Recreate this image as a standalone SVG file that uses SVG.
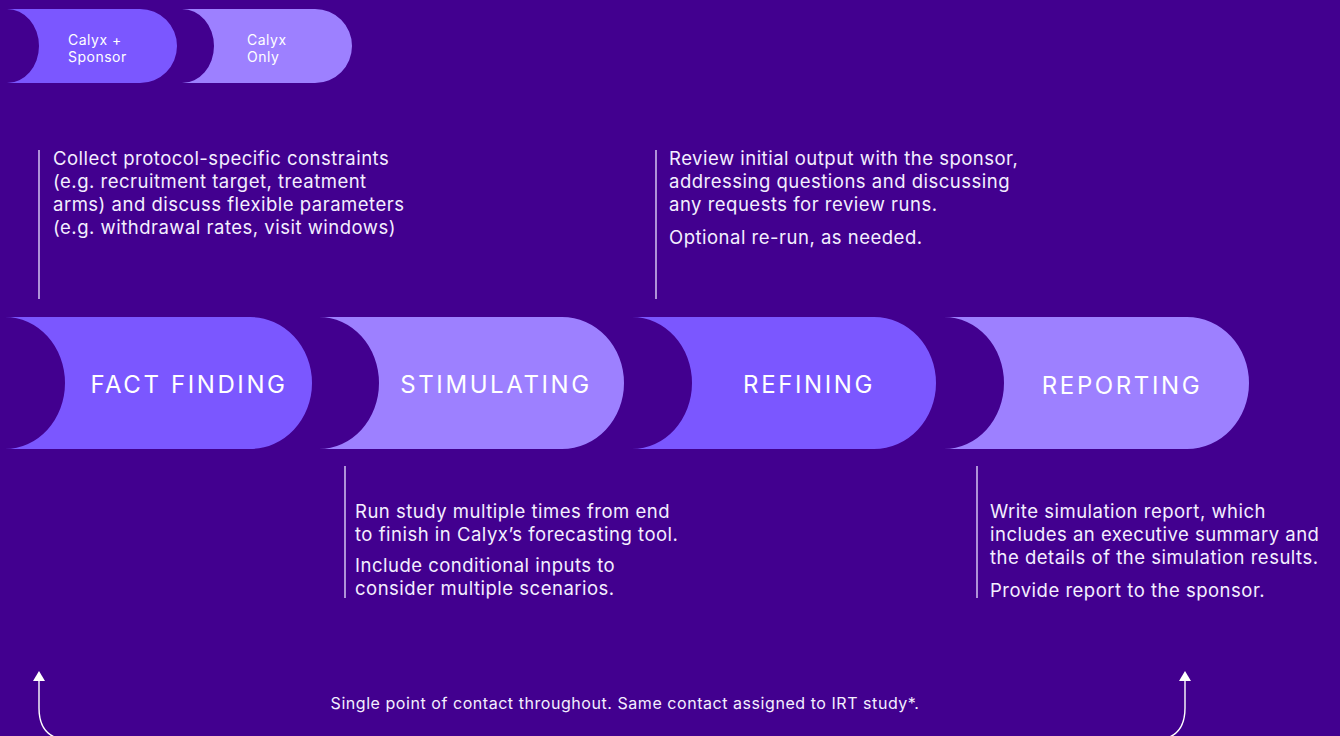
<svg xmlns="http://www.w3.org/2000/svg" width="1340" height="736" viewBox="0 0 1340 736">
  <defs>
    <style>
      .bg { fill: #42008f; }
      .mid { fill: #7b57ff; }
      .light { fill: #9d80ff; }
      .stage { font-family: Inter, "Noto Sans", sans-serif; font-size: 24px; fill: #ffffff; letter-spacing: 2.6px; text-anchor: middle; }
      .legend { font-family: Inter, "Noto Sans", sans-serif; font-size: 14px; fill: #ffffff; letter-spacing: 0.5px; }
      .desc { font-family: Inter, "Noto Sans", sans-serif; font-size: 18.5px; fill: #f4efff; letter-spacing: 0.5px; }
      .note { font-family: Inter, "Noto Sans", sans-serif; font-size: 16px; fill: #f4efff; letter-spacing: 0.55px; text-anchor: middle; }
      .rule { stroke: #e9e2ff; stroke-width: 1.3; fill: none; }
      .flow { stroke: #ffffff; stroke-width: 1.4; fill: none; }
    </style>
    <marker id="tip" viewBox="0 0 10 12" refX="0" refY="6" markerWidth="10" markerHeight="12" markerUnits="userSpaceOnUse" orient="auto-start-reverse">
      <path d="M0,0 L10,6 L0,12 Z" fill="#ffffff"/>
    </marker>
  </defs>

  <rect class="bg" x="0" y="0" width="1340" height="736"/>

  <!-- legend -->
  <g id="legend-calyx-sponsor">
    <path class="mid" d="M7,9 H140 A37 37 0 0 1 140,83 H7 A32 37 0 0 0 7,9 Z"/>
    <text class="legend" x="68" y="45">Calyx +</text>
    <text class="legend" x="68" y="62">Sponsor</text>
  </g>
  <g id="legend-calyx-only">
    <path class="light" d="M182,9 H315 A37 37 0 0 1 315,83 H182 A32 37 0 0 0 182,9 Z"/>
    <text class="legend" x="247" y="45">Calyx</text>
    <text class="legend" x="247" y="62">Only</text>
  </g>

  <!-- process stages -->
  <g id="stage-fact-finding">
    <path class="mid" d="M5,317 H250 A62 66 0 0 1 250,449 H5 A60 66 0 0 0 5,317 Z"/>
    <text class="stage" x="189" y="393">FACT FINDING</text>
  </g>
  <g id="stage-stimulating">
    <path class="light" d="M319,317 H562 A62 66 0 0 1 562,449 H319 A60 66 0 0 0 319,317 Z"/>
    <text class="stage" x="496" y="393">STIMULATING</text>
  </g>
  <g id="stage-refining">
    <path class="mid" d="M632,317 H874 A62 66 0 0 1 874,449 H632 A60 66 0 0 0 632,317 Z"/>
    <text class="stage" x="809" y="393">REFINING</text>
  </g>
  <g id="stage-reporting">
    <path class="light" d="M944,317 H1187 A62 66 0 0 1 1187,449 H944 A60 66 0 0 0 944,317 Z"/>
    <text class="stage" x="1122" y="394">REPORTING</text>
  </g>

  <!-- stage notes -->
  <g id="note-fact-finding">
    <line class="rule" x1="39" y1="150" x2="39" y2="299"/>
    <text class="desc" x="53" y="165">Collect protocol-specific constraints</text>
    <text class="desc" x="53" y="188">(e.g. recruitment target, treatment</text>
    <text class="desc" x="53" y="211">arms) and discuss flexible parameters</text>
    <text class="desc" x="53" y="234">(e.g. withdrawal rates, visit windows)</text>
  </g>
  <g id="note-refining">
    <line class="rule" x1="656" y1="150" x2="656" y2="299"/>
    <text class="desc" x="669" y="165">Review initial output with the sponsor,</text>
    <text class="desc" x="669" y="188">addressing questions and discussing</text>
    <text class="desc" x="669" y="211">any requests for review runs.</text>
    <text class="desc" x="669" y="244">Optional re-run, as needed.</text>
  </g>
  <g id="note-stimulating">
    <line class="rule" x1="345" y1="466" x2="345" y2="598"/>
    <text class="desc" x="355" y="518">Run study multiple times from end</text>
    <text class="desc" x="355" y="541">to finish in Calyx’s forecasting tool.</text>
    <text class="desc" x="355" y="572">Include conditional inputs to</text>
    <text class="desc" x="355" y="595">consider multiple scenarios.</text>
  </g>
  <g id="note-reporting">
    <line class="rule" x1="977" y1="466" x2="977" y2="598"/>
    <text class="desc" x="990" y="518">Write simulation report, which</text>
    <text class="desc" x="990" y="541">includes an executive summary and</text>
    <text class="desc" x="990" y="564">the details of the simulation results.</text>
    <text class="desc" x="990" y="597">Provide report to the sponsor.</text>
  </g>

  <!-- single point of contact loop -->
  <g id="connectors">
    <path class="flow" d="M39,681 V708 Q39,740 71,740 H1153 Q1185,740 1185,708 V681" marker-start="url(#tip)" marker-end="url(#tip)"/>
  </g>
  <text id="contact-note" class="note" x="625" y="709">Single point of contact throughout. Same contact assigned to IRT study*.</text>
</svg>
